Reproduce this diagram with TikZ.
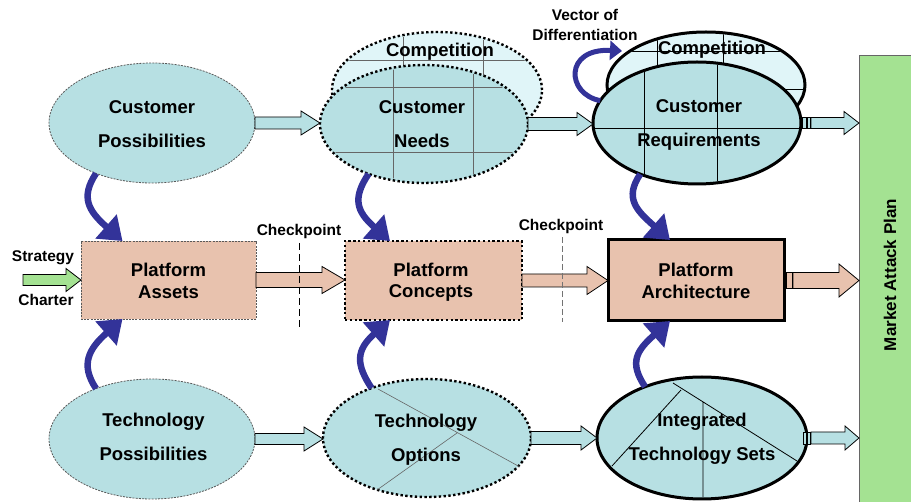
\documentclass[tikz,border=0pt]{standalone}
\usepackage{fontspec}
\setmainfont{Liberation Sans}
\usetikzlibrary{shapes.geometric,arrows.meta,calc}

\definecolor{ellfill}{HTML}{B7E0E3}
\definecolor{compfill}{HTML}{E0F5F8}
\definecolor{boxfill}{HTML}{E8C2AE}
\definecolor{planfill}{HTML}{A4E292}
\definecolor{flowblue}{HTML}{333399}

% block arrow: fill, start, end, body half-height, head half-height, head length
\newcommand\blockarrow[6]{%
  \draw[fill=#1, line width=0.8pt, line join=miter] let \p1=#2, \p2=#3 in
    (\x1,\y1+#4) -- (\x2-#6,\y1+#4) -- (\x2-#6,\y1+#5) -- (\x2,\y1)
    -- (\x2-#6,\y1-#5) -- (\x2-#6,\y1-#4) -- (\x1,\y1-#4) -- cycle;}

\begin{document}
\begin{tikzpicture}[x=1pt,y=-1pt,
  bigtxt/.style={font=\fontsize{18.5}{34}\selectfont\bfseries, align=center, inner sep=0pt},
  boxtxt/.style={font=\fontsize{18.5}{21.5}\selectfont\bfseries, align=center, inner sep=0pt},
  smalltxt/.style={font=\fontsize{15.5}{20}\selectfont\bfseries, align=center, inner sep=0pt},
  ell/.style={ellipse, fill=ellfill, inner sep=0pt, outer sep=0pt},
  boxnode/.style={rectangle, fill=boxfill, inner sep=0pt, outer sep=0pt},
  thinedge/.style={draw=black!65, line width=0.8pt, dash pattern=on 2pt off 1.2pt},
  dotedge/.style={draw=black, line width=2.4pt, dash pattern=on 2.4pt off 2.4pt},
  solidedge/.style={draw=black, line width=3pt},
  gridgray/.style={draw=black!60, line width=0.6pt},
  gridblack/.style={draw=black, line width=0.8pt},
  bluearrow/.style={draw=flowblue, line width=6.5pt, -{Triangle[length=22pt,width=31pt]}},
  bar/.style={fill=#1, line width=0.6pt, draw=black}
]
\clip (0,0) rectangle (911,502);

% ---------- market attack plan ----------
\node[rectangle, fill=planfill, draw=black!60, line width=1pt, anchor=north west,
      minimum width=80pt, minimum height=470pt, inner sep=0pt, outer sep=0pt] (map) at (859,56) {};
\node[rotate=90, font=\fontsize{17}{20}\selectfont\bfseries, inner sep=0pt] (mapt) at (890,275) {Market Attack Plan};

% ---------- customer row ----------
\node[ell, thinedge, minimum width=206pt, minimum height=120pt] (cp) at (152,123) {};
\node[bigtxt] (cpt) at (152,124) {Customer\\Possibilities};

% competition behind customer needs
\node[ell, fill=compfill, dotedge, minimum width=210pt, minimum height=116pt] (cnc) at (437,90) {};
\begin{scope}
  \clip (cnc.center) ellipse [x radius=103, y radius=56];
  \draw[gridgray] (320,60) -- (550,60) (403,20) -- (403,120) (483,20) -- (483,120);
\end{scope}
\node[bigtxt] (cnct) at (440,52) {Competition};

\node[ell, dotedge, minimum width=208pt, minimum height=118pt] (cn) at (424,124) {};
\begin{scope}
  \clip (cn.center) ellipse [x radius=102, y radius=57];
  \draw[gridgray] (310,87) -- (540,87) (310,152) -- (540,152)
                  (393,60) -- (393,190) (473,60) -- (473,190);
\end{scope}
\node[bigtxt] (cnt) at (422,124.5) {Customer\\Needs};

% competition behind customer requirements
\node[ell, fill=compfill, solidedge, minimum width=198pt, minimum height=106pt] (crc) at (706,85) {};
\begin{scope}
  \clip (crc.center) ellipse [x radius=97.5, y radius=51.5];
  \draw[gridblack] (600,51) -- (810,51) (600,89) -- (810,89)
                   (657,20) -- (657,140) (723,20) -- (723,140);
\end{scope}
\node[bigtxt] (crct) at (712,50) {Competition};

\node[ell, solidedge, minimum width=208pt, minimum height=122pt] (cr) at (697,123) {};
\begin{scope}
  \clip (cr.center) ellipse [x radius=102.5, y radius=59.5];
  \draw[gridblack] (590,128) -- (805,128) (644,55) -- (644,190) (717,55) -- (717,190);
\end{scope}
\node[bigtxt] (crt) at (699,124.5) {Customer\\Requirements};

% vector of differentiation
\coordinate (vtip) at (622,51);
\draw[flowblue, line width=5pt, -{Triangle[length=12pt,width=19pt]}]
  (cr.167) .. controls (566,94) and (564,48) .. (vtip);
\node[smalltxt] (vod) at (585,25) {Vector of\\Differentiation};

% ---------- platform row ----------
\node[boxnode, thinedge, minimum width=175pt, minimum height=78pt] (pa) at (168.5,280) {};
\node[boxtxt] (pat) at (168.5,281) {Platform\\Assets};

\node[boxnode, dotedge, minimum width=177pt, minimum height=79pt] (pc) at (433.5,280.5) {};
\node[boxtxt] (pct) at (431,282) {Platform\\Concepts};

\node[boxnode, solidedge, minimum width=176pt, minimum height=81pt] (parch) at (696,280.5) {};
\node[boxtxt] (parcht) at (696,281) {Platform\\Architecture};

% strategy charter input
\coordinate (strat) at (23,280);
\blockarrow{planfill}{(strat)}{(pa.west)}{5.5pt}{11.5pt}{15pt}
\node[smalltxt] (stratt) at (43,258) {Strategy};
\node[smalltxt] (chart) at (46,300) {Charter};

% checkpoints
\coordinate (ck1a) at (299,243);
\coordinate (ck1b) at (299,328);
\coordinate (ck2a) at (562,237);
\coordinate (ck2b) at (562,322);

\blockarrow{boxfill}{(pa.east)}{(pc.west)}{7.5pt}{13.5pt}{23pt}
\blockarrow{boxfill}{(pc.east)}{(parch.west)}{6.5pt}{14pt}{21pt}

\draw[black, line width=1pt, dash pattern=on 7pt off 4pt] (ck1a) -- (ck1b);
\draw[black!55, line width=1pt, dash pattern=on 6pt off 3pt] (ck2a) -- (ck2b);
\node[smalltxt] (ck1t) at (299,231) {Checkpoint};
\node[smalltxt] (ck2t) at (561,226) {Checkpoint};

% ---------- technology row ----------
\node[ell, thinedge, minimum width=206pt, minimum height=120pt] (tp) at (152,439) {};
\node[bigtxt] (tpt) at (153.5,437) {Technology\\Possibilities};

\node[ell, dotedge, minimum width=208pt, minimum height=118pt] (to) at (427,438) {};
\draw[gridgray] (378,389) -- (520,467) (377,490) -- (457,433);
\node[bigtxt] (tot) at (426,439.5) {Technology\\Options};

\node[ell, solidedge, minimum width=210pt, minimum height=122pt] (it) at (702,438) {};
\draw[gridblack] (673,383) -- (797,461) (681,390) -- (612,466) (703,402) -- (703,497);
\node[bigtxt] (itt) at (702,438.5) {Integrated\\Technology Sets};

% ---------- horizontal flow arrows ----------
\blockarrow{ellfill}{(cp.east)}{(cn.west)}{6pt}{12pt}{19pt}
\blockarrow{ellfill}{(cn.east)}{(cr.west)}{6.5pt}{11.5pt}{16pt}
\blockarrow{ellfill}{(tp.east)}{(to.west)}{5.5pt}{12pt}{19pt}
\blockarrow{ellfill}{(to.east)}{(it.west)}{6.5pt}{12pt}{16pt}

% outputs into the market attack plan
\coordinate (crx) at ([xshift=10pt]cr.east);
\draw[bar=ellfill] ([xshift=1pt]cr.east) ++(0,-5.5) rectangle ++(4,11);
\draw[bar=ellfill] ([xshift=6pt]cr.east) ++(0,-5.5) rectangle ++(3,11);
\blockarrow{ellfill}{(crx)}{(crx -| map.west)}{5.5pt}{11.5pt}{15pt}

\coordinate (parx) at ([xshift=9pt]parch.east);
\draw[bar=boxfill] ([xshift=2pt]parch.east) ++(0,-8) rectangle ++(6,16);
\blockarrow{boxfill}{(parx)}{(parx -| map.west)}{8pt}{16.5pt}{20pt}

\coordinate (itx) at ([xshift=4pt]it.east);
\draw[bar=ellfill] ([xshift=-4pt]it.east) ++(0,-6) rectangle ++(3.5,12);
\draw[bar=ellfill] ([xshift=0pt]it.east) ++(0,-6) rectangle ++(3.5,12);
\blockarrow{ellfill}{(itx)}{(itx -| map.west)}{6pt}{12pt}{14pt}

% ---------- feeding arrows into the platform boxes ----------
\draw[bluearrow] (cp.222) .. controls +(-16,24) and +(-34,-30) .. ([xshift=-46pt]pa.north);
\draw[bluearrow] (tp.138) .. controls +(-16,-24) and +(-34,30) .. ([xshift=-46pt]pa.south);
\draw[bluearrow] (cn.222) .. controls +(-16,24) and +(-34,-30) .. ([xshift=-43.5pt]pc.north);
\draw[bluearrow] (to.138) .. controls +(-16,-24) and +(-34,30) .. ([xshift=-43.5pt]pc.south);
\draw[bluearrow] (cr.222) .. controls +(-16,24) and +(-34,-30) .. ([xshift=-26pt]parch.north);
\draw[bluearrow] (it.138) .. controls +(-16,-24) and +(-34,30) .. ([xshift=-26pt]parch.south);
\end{tikzpicture}
\end{document}
